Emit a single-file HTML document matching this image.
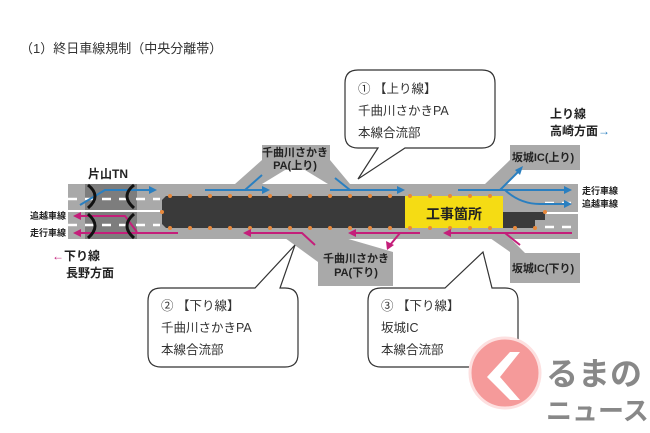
<!DOCTYPE html>
<html><head><meta charset="utf-8"><style>
html,body{margin:0;padding:0;background:#fff;}
svg{display:block;font-family:"Liberation Sans","Noto Sans CJK JP",sans-serif;}
.b{font-weight:bold;}
</style></head><body>
<svg width="650" height="433" viewBox="0 0 650 433">
<rect width="650" height="433" fill="#fff"/>
<text x="20" y="53" font-size="13" fill="#333">（1）終日車線規制（中央分離帯）</text>

<!-- ramps -->
<g fill="#a9a9a9">
<polygon points="235,184 262,160 262,145 330,145 330,160 350,184 328,184 305,170 285,170 262,184"/>
<polygon points="285,238 318,262 318,286 393,286 393,252 345,238"/>
<polygon points="485,184 510,160 510,145 580,145 580,170 520,170 505,184"/>
<polygon points="490,238 510,252 510,283 580,283 580,253 525,253 510,238"/>
</g>
<!-- road -->
<rect x="68" y="184" width="510" height="55" fill="#a9a9a9"/>
<rect x="85" y="184" width="52" height="55" fill="#7d7d7d"/>
<!-- white dashes -->
<g stroke="#fff" stroke-width="2.5" stroke-dasharray="9,8">
<line x1="68" y1="199" x2="160" y2="199"/>
<line x1="68" y1="225" x2="160" y2="225"/>
<line x1="545" y1="203" x2="578" y2="203"/>
<line x1="545" y1="227" x2="578" y2="227"/>
</g>
<line x1="68" y1="211" x2="160" y2="211" stroke="#fff" stroke-width="2"/>
<line x1="503" y1="213" x2="578" y2="213" stroke="#fff" stroke-width="2"/>
<!-- work zone -->
<polygon points="162,200 166,196 405,196 405,228 166,228 162,224" fill="#3a3a3a"/>
<rect x="405" y="196" width="98" height="32" fill="#f5dc14"/>
<polygon points="503,212 545,212 545,220 535,220 535,228 503,228" fill="#3a3a3a"/>
<g fill="#e8883a">
<circle cx="170" cy="196" r="2"/><circle cx="190" cy="196" r="2"/><circle cx="210" cy="196" r="2"/><circle cx="230" cy="196" r="2"/><circle cx="250" cy="196" r="2"/><circle cx="270" cy="196" r="2"/><circle cx="290" cy="196" r="2"/><circle cx="310" cy="196" r="2"/><circle cx="330" cy="196" r="2"/><circle cx="350" cy="196" r="2"/><circle cx="370" cy="196" r="2"/><circle cx="390" cy="196" r="2"/><circle cx="410" cy="196" r="2"/><circle cx="430" cy="196" r="2"/><circle cx="450" cy="196" r="2"/><circle cx="470" cy="196" r="2"/><circle cx="490" cy="196" r="2"/><circle cx="545" cy="212" r="2"/>
<circle cx="170" cy="228" r="2"/><circle cx="190" cy="228" r="2"/><circle cx="210" cy="228" r="2"/><circle cx="230" cy="228" r="2"/><circle cx="250" cy="228" r="2"/><circle cx="270" cy="228" r="2"/><circle cx="290" cy="228" r="2"/><circle cx="310" cy="228" r="2"/><circle cx="330" cy="228" r="2"/><circle cx="350" cy="228" r="2"/><circle cx="370" cy="228" r="2"/><circle cx="390" cy="228" r="2"/><circle cx="410" cy="228" r="2"/><circle cx="430" cy="228" r="2"/><circle cx="450" cy="228" r="2"/><circle cx="470" cy="228" r="2"/><circle cx="490" cy="228" r="2"/><circle cx="515" cy="228" r="2"/><circle cx="535" cy="228" r="2"/>
<circle cx="162" cy="212" r="2"/>
</g>
<text x="454" y="219" font-size="14" class="b" text-anchor="middle" fill="#222">工事箇所</text>
<!-- blue arrows -->
<g stroke="#2a7fc0" stroke-width="2" fill="none">
<path d="M80,205 L105,190 L150,190"/>
<path d="M205,190 L262,190"/><path d="M245,190 L262,175"/>
<path d="M330,190 L398,190"/><path d="M335,178 L350,190"/>
<path d="M458,190 L565,190"/><path d="M500,190 L520,170"/><path d="M505,190 Q520,204 540,204 L565,204"/>
</g>
<g fill="#2a7fc0">
<polygon points="157,190 149,186 149,194"/><polygon points="270,190 262,186 262,194"/><polygon points="405,190 397,186 397,194"/><polygon points="572,190 564,186 564,194"/><polygon points="572,204 564,200 564,208"/><polygon points="523,166 515,170 520,175"/>
</g>
<!-- magenta arrows -->
<g stroke="#c41e7a" stroke-width="2" fill="none">
<path d="M80,216 L125,216 L137,232"/><path d="M80,233 L178,233"/>
<path d="M250,233 L302,233 L315,245"/>
<path d="M355,233 L420,233"/><path d="M400,233 L390,245"/>
<path d="M450,233 L572,233"/><path d="M505,233 L520,245"/>
</g>
<g fill="#c41e7a">
<polygon points="73,216 81,212 81,220"/><polygon points="73,233 81,229 81,237"/><polygon points="243,233 251,229 251,237"/><polygon points="348,233 356,229 356,237"/><polygon points="443,233 451,229 451,237"/><polygon points="387,250 386,241 394,245"/>
</g>
<!-- tunnel arcs -->
<g stroke="#111" stroke-width="3" fill="none">
<path d="M88,185 Q102,196 88,208"/><path d="M134,185 Q120,196 134,208"/>
<path d="M88,214 Q102,226 88,238"/><path d="M134,214 Q120,226 134,238"/>
</g>
<text x="88" y="178" font-size="12" class="b" fill="#222">片山TN</text>
<text x="66" y="219" font-size="9" class="b" text-anchor="end" fill="#222">追越車線</text>
<text x="66" y="236" font-size="9" class="b" text-anchor="end" fill="#222">走行車線</text>
<text x="582" y="194" font-size="9" class="b" fill="#222">走行車線</text>
<text x="582" y="207" font-size="9" class="b" fill="#222">追越車線</text>
<text x="52" y="260" font-size="12" class="b" fill="#222"><tspan fill="#c41e7a">←</tspan>下り線</text>
<text x="66" y="277" font-size="12" class="b" fill="#222">長野方面</text>
<text x="550" y="118" font-size="12" class="b" fill="#222">上り線</text>
<text x="550" y="135" font-size="12" class="b" fill="#222">高崎方面<tspan fill="#2a7fc0">→</tspan></text>
<g font-size="11" class="b" fill="#222" text-anchor="middle">
<text x="295" y="156">千曲川さかき</text><text x="295" y="169">PA(上り)</text>
<text x="356" y="262">千曲川さかき</text><text x="356" y="276">PA(下り)</text>
<text x="543" y="161">坂城IC(上り)</text><text x="543" y="272">坂城IC(下り)</text>
</g>
<!-- callouts -->
<g fill="#fff" stroke="#333" stroke-width="1.2">
<path d="M358,70 H482 Q495,70 495,83 V135 Q495,148 482,148 H405 L358,179 L378,148 H358 Q345,148 345,135 V83 Q345,70 358,70 Z"/>
<path d="M161,288 H255 L295,245 L280,288 H285 Q298,288 298,301 V354 Q298,367 285,367 H161 Q148,367 148,354 V301 Q148,288 161,288 Z"/>
<path d="M381,288 H445 L483,252 L492,288 H505 Q518,288 518,301 V354 Q518,367 505,367 H381 Q368,367 368,354 V301 Q368,288 381,288 Z"/>
</g>
<g font-size="12.5" fill="#333">
<text x="358" y="93">① 【上り線】</text><text x="358" y="115">千曲川さかきPA</text><text x="358" y="137">本線合流部</text>
<text x="161" y="310">② 【下り線】</text><text x="161" y="332">千曲川さかきPA</text><text x="161" y="354">本線合流部</text>
<text x="381" y="310">③ 【下り線】</text><text x="381" y="332">坂城IC</text><text x="381" y="354">本線合流部</text>
</g>
<!-- logo -->
<circle cx="505" cy="373" r="35" fill="#f59a9a" stroke="#fde0e0" stroke-width="3"/>
<polygon points="510,352 487,377 510,400 520,400 500,377 520,352" fill="#fff"/>
<text x="546" y="385" font-size="32" class="b" fill="#888">るまの</text>
<text x="546" y="420" font-size="26" class="b" fill="#888">ニュース</text>
</svg>
</body></html>
